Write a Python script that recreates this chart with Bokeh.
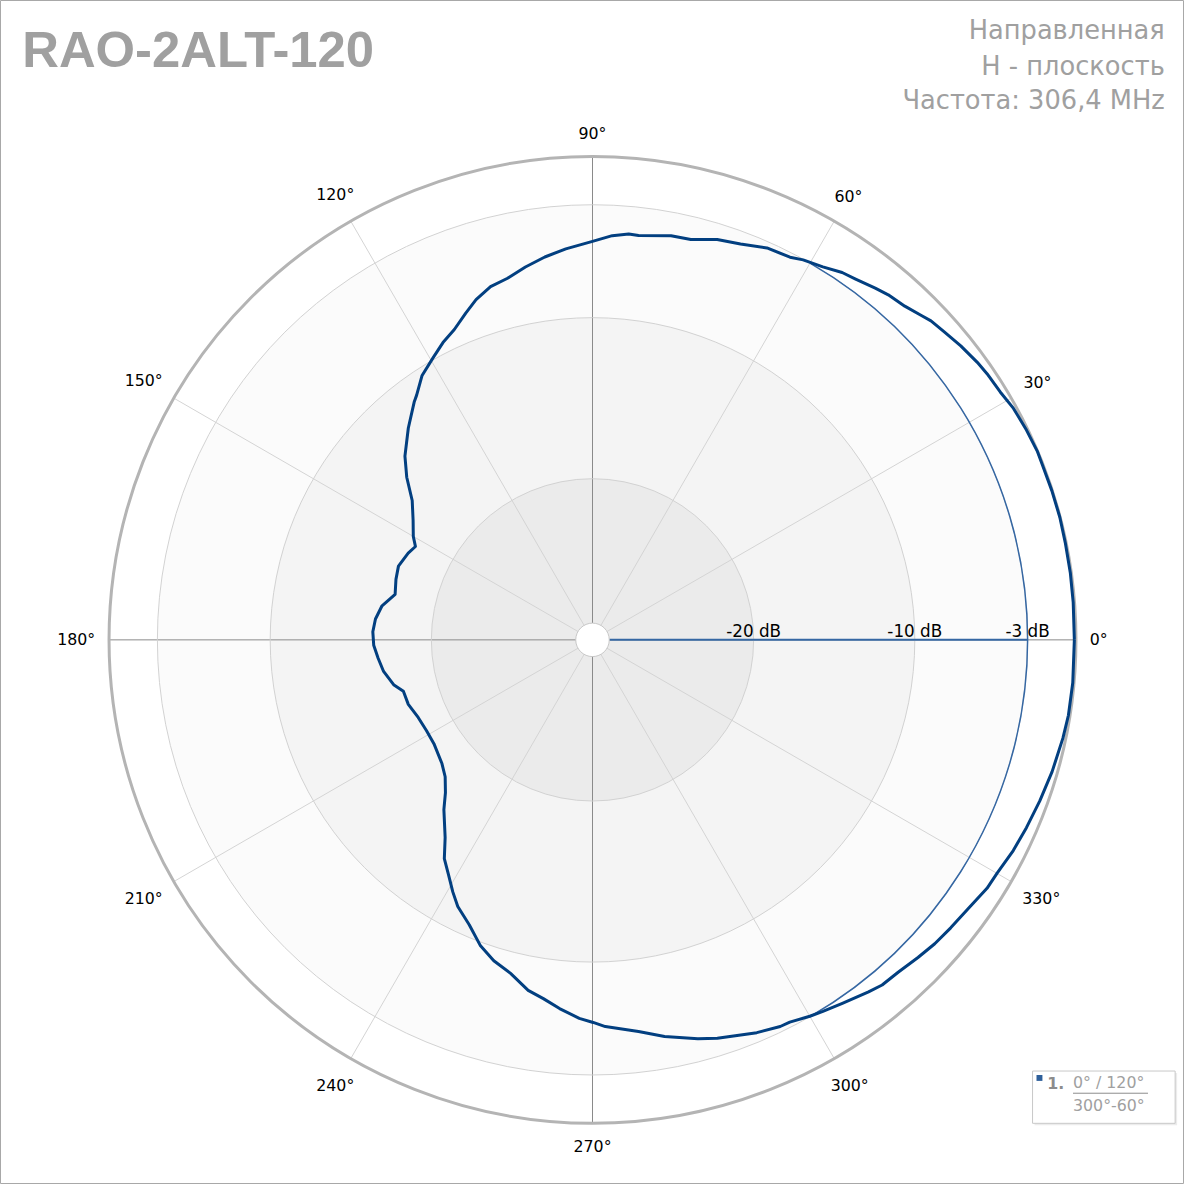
import numpy as np
from bokeh.plotting import figure
from bokeh.models import Range1d
from bokeh.core.properties import value
from bokeh.embed import file_html
from bokeh.resources import INLINE

# ---------------- data ----------------
angles_deg = [0, 4.5, 8.0, 11.5, 14.7, 18.0, 21.1, 23.0, 25.8, 28.8, 31.3, 34.0, 35.8, 38.6,
              41.2, 43.3, 44.6, 46.9, 49.4, 51.2, 53.9, 55.8, 58.3, 61.0, 62.7, 66.0, 69.5,
              72.7, 76.2, 79.0, 83.5, 84.9, 87.2, 90.0, 93.9, 97.1, 100.2, 103.3, 106.1,
              108.9, 111.2, 114.0, 116.7, 119.4, 122.8, 125.7, 126.8, 131.0, 135.6, 138.8,
              142.3, 146.3, 150.0, 152.2, 154.8, 159.2, 162.9, 167.0, 170.8, 174.5, 177.9,
              181.4, 184.9, 188.6, 192.7, 195.2, 199.3, 204.0, 208.7, 213.2, 219.4, 222.9,
              226.1, 228.8, 233.3, 235.9, 238.6, 241.0, 243.2, 246.6, 249.9, 252.9, 256.2,
              259.6, 262.2, 264.9, 268.0, 270.1, 271.9, 276.7, 280.3, 284.8, 287.4, 292.7,
              295.9, 297.3, 300.0, 301.8, 304.5, 308.1, 310.0, 312.6, 315.7, 318.4, 321.2,
              324.6, 327.8, 330.0, 333.4, 336.6, 340.2, 344.0, 348.2, 351.0, 354.9]
gain_db = [-0.10, -0.08, -0.06, -0.05, -0.02, -0.03, -0.05, -0.02, -0.09, -0.19, -0.39, -0.47,
           -0.56, -0.76, -0.99, -1.14, -1.34, -1.64, -1.80, -2.00, -2.29, -2.44, -2.80, -3.04,
           -3.28, -3.38, -3.77, -3.98, -4.42, -4.45, -4.75, -4.72, -4.89, -5.27, -5.68, -6.06,
           -6.49, -6.96, -7.19, -7.69, -8.25, -8.92, -9.35, -9.88, -10.48, -11.30, -11.54,
           -12.58, -13.71, -14.68, -15.86, -16.62, -17.16, -17.58, -17.36, -17.12, -17.24,
           -17.43, -16.77, -16.47, -16.36, -16.42, -16.65, -16.89, -17.35, -17.84, -17.89,
           -18.16, -18.26, -18.24, -17.91, -17.52, -16.84, -16.00, -14.70, -13.60, -12.87,
           -12.12, -11.46, -10.74, -9.78, -9.17, -8.69, -7.89, -7.53, -7.03, -6.50, -6.26,
           -5.99, -5.53, -4.98, -4.40, -4.09, -3.58, -3.33, -3.31, -3.03, -2.87, -2.63, -2.24,
           -2.04, -1.98, -1.78, -1.60, -1.48, -1.32, -1.07, -1.02, -0.80, -0.66, -0.50, -0.33,
           -0.18, -0.10, -0.08]

ring_levels = [-20, -10, -3]
ring_labels = ["-20 dB", "-10 dB", "-3 dB"]
band_levels = [0, -3, -10, -20]
spoke_angles = [0, 30, 60, 90, 120, 150, 180, 210, 240, 270, 300, 330]
spoke_labels = ["0°", "30°", "60°", "90°", "120°", "150°", "180°", "210°", "240°", "270°", "300°", "330°"]
beam_level = -3
beam_start_deg, beam_end_deg = -60, 60

title_text = "RAO-2ALT-120"
subtitle_lines = ["Направленная", "Н - плоскость", "Частота: 306,4 MHz"]
legend_num = "1."
legend_line1 = "0° / 120°"
legend_line2 = "300°-60°"

# ---------------- geometry ----------------
DB_MIN, DB_MAX = -30.0, 0.0
R_OUT = 490.0
REF = 1200.0                   # reference picture size (data units)
CX, CY = 600.0, 648.0          # centre in reference pixels
W = H = 1184
S = W / REF                    # screen px per data unit


def fs(px):
    return "%.1fpx" % (px * S)


def rad(db):
    return (np.asarray(db, dtype=float) - DB_MIN) / (DB_MAX - DB_MIN) * R_OUT


def sx(x):
    return x - CX


def sy(y):
    return CY - y


p = figure(width=W, height=H, output_backend="svg", toolbar_location=None,
           x_range=Range1d(-CX, REF - CX), y_range=Range1d(CY - REF, CY),
           x_axis_location=None, y_axis_location=None, min_border=0)
p.grid.visible = False
p.background_fill_color = "white"
p.border_fill_color = "white"
p.outline_line_color = "#a8a8a8"
p.outline_line_width = 1

FONT = value("DejaVu Sans")

# background bands (outer -> inner)
band_colors = ["#ffffff", "#fbfbfb", "#f4f4f4", "#ebebeb"]
p.circle(x=[0] * 4, y=[0] * 4, radius=list(rad(band_levels)), fill_color=band_colors,
         line_color=None)

# spokes
sp = np.deg2rad(spoke_angles)
major = [a % 90 == 0 for a in spoke_angles]
p.segment(x0=[0] * len(sp), y0=[0] * len(sp), x1=list(R_OUT * np.cos(sp)), y1=list(R_OUT * np.sin(sp)),
          line_color=["#8a8a8a" if m else "#d4d4d4" for m in major], line_width=1)

# ring lines
p.circle(x=[0] * 3, y=[0] * 3, radius=list(rad(ring_levels)), fill_color=None,
         line_color="#d2d2d2", line_width=1)
# outer circle
p.circle(x=[0], y=[0], radius=[R_OUT], fill_color=None, line_color="#b4b4b4", line_width=3)

# -3 dB sector
p.arc(x=0, y=0, radius=float(rad(beam_level)), start_angle=np.deg2rad(beam_start_deg),
      end_angle=np.deg2rad(beam_end_deg), line_color="#3567a3", line_width=1.5)
p.segment(x0=[17], y0=[0], x1=[float(rad(beam_level))], y1=[0], line_color="#3567a3", line_width=2)

# centre hole
p.circle(x=[0], y=[0], radius=[17], fill_color="white", line_color="#c8c8c8", line_width=1)

# pattern
th = np.deg2rad(np.array(angles_deg + [angles_deg[0]]))
rr = rad(gain_db + [gain_db[0]])
p.line(x=rr * np.cos(th), y=rr * np.sin(th), line_color="#023f80", line_width=3, line_join="round")

# ring labels (centred on ring, sitting above the 0° line)
p.text(x=list(rad(ring_levels)), y=[9] * 3, text=ring_labels, text_font=FONT, text_font_size=fs(17),
       text_color="#000000", text_align="center", text_baseline="middle")

# angle labels
lab_x, lab_y = [], []
for a, t in zip(spoke_angles, spoke_labels):
    ar = np.deg2rad(a)
    w = (len(t) - 1) * 0.636 * 16 + 8
    h = 18
    r = 504 + 0.5 * (w * abs(np.cos(ar)) + h * abs(np.sin(ar)))
    lab_x.append(r * np.cos(ar))
    lab_y.append(r * np.sin(ar))
p.text(x=lab_x, y=lab_y, text=spoke_labels, text_font=FONT, text_font_size=fs(16),
       text_color="#000000", text_align="center", text_baseline="middle")

# title
p.text(x=[sx(22)], y=[sy(50)], text=[title_text], text_font=value("Liberation Sans"),
       text_font_style="bold", text_font_size=fs(51.5), text_color="#a0a0a0",
       text_align="left", text_baseline="middle")

# subtitle (right)
p.text(x=[sx(1180)] * 3, y=[sy(30), sy(66), sy(101)], text=subtitle_lines, text_font=FONT,
       text_font_size=fs(26), text_color="#a0a0a0", text_align="right", text_baseline="middle")

# legend box
p.quad(left=[sx(1048)], right=[sx(1192.5)], top=[sy(1087)], bottom=[sy(1140)],
       fill_color="#ececec", line_color=None)
p.quad(left=[sx(1046)], right=[sx(1190.5)], top=[sy(1085)], bottom=[sy(1138)],
       fill_color="white", line_color="#c8c8c8", line_width=1)
p.quad(left=[sx(1050)], right=[sx(1056)], top=[sy(1089)], bottom=[sy(1095)],
       fill_color="#2e5f9a", line_color=None)
p.text(x=[sx(1061)], y=[sy(1097)], text=[legend_num], text_font=FONT, text_font_style="bold",
       text_font_size=fs(16), text_color="#8c8c8c", text_align="left", text_baseline="middle")
p.text(x=[sx(1087), sx(1087)], y=[sy(1097), sy(1120)], text=[legend_line1, legend_line2],
       text_font=FONT, text_font_size=fs(16), text_color="#a0a0a0", text_align="left",
       text_baseline="middle")
p.segment(x0=[sx(1087)], y0=[sy(1107.5)], x1=[sx(1163)], y1=[sy(1107.5)], line_color="#8c8c8c",
          line_width=1)

open("out.html", "w").write(file_html(p, INLINE))
